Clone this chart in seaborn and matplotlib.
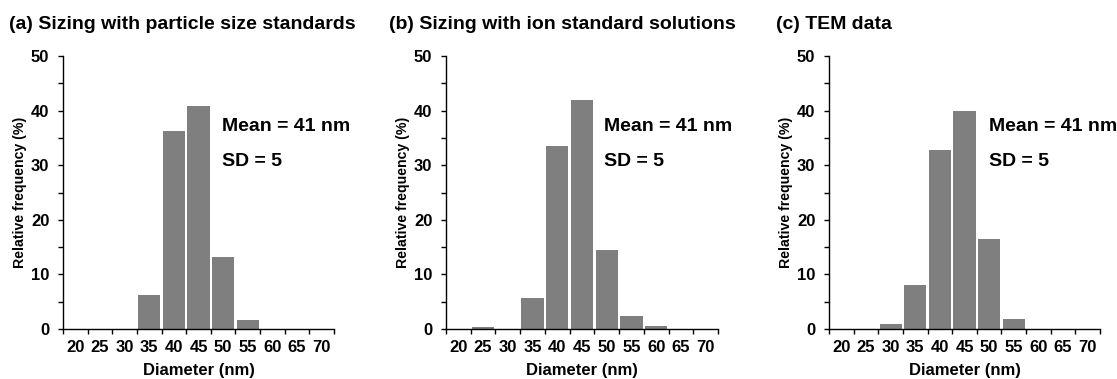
import matplotlib
matplotlib.use("Agg")
import matplotlib.pyplot as plt
from matplotlib import font_manager
from matplotlib.ticker import MultipleLocator, FixedLocator
import numpy as np
import pandas as pd
import seaborn as sns

# Size classes (nm) and relative frequencies (%) for each sizing method
diameters = ["20", "25", "30", "35", "40", "45", "50", "55", "60", "65", "70"]
freq_particle_std = [0, 0, 0, 6.3, 36.3, 40.9, 13.1, 1.7, 0, 0, 0]
freq_ion_std = [0, 0.3, 0, 5.6, 33.5, 42.0, 14.5, 2.4, 0.5, 0, 0]
freq_tem = [0, 0, 0.9, 8.0, 32.7, 40.0, 16.5, 1.9, 0, 0, 0]

panel_titles = [
    "(a) Sizing with particle size standards",
    "(b) Sizing with ion standard solutions",
    "(c) TEM data",
]
mean_labels = ["Mean = 41 nm", "Mean = 41 nm", "Mean = 41 nm"]
sd_labels = ["SD = 5", "SD = 5", "SD = 5"]

sns.set_theme(style="white")

available = {f.name for f in font_manager.fontManager.ttflist}
family = "Liberation Sans Narrow" if "Liberation Sans Narrow" in available else "Liberation Sans"
plt.rcParams["font.family"] = [family, "DejaVu Sans"]
plt.rcParams["font.weight"] = "bold"
for key in ("text.color", "axes.labelcolor", "xtick.color", "ytick.color"):
    plt.rcParams[key] = "black"

W, H = 1117, 379
fig = plt.figure(figsize=(W / 100, H / 100), dpi=100)

# axes boxes in pixels: left, right, top, bottom
boxes = [(63, 334, 56, 329), (446, 718, 56, 329), (829, 1100, 56, 329)]
text_x = [0.587, 0.58, 0.59]
title_x = [9, 389, 776]
series = [freq_particle_std, freq_ion_std, freq_tem]

for i, (l, r, t, b) in enumerate(boxes):
    ax = fig.add_axes([l / W, 1 - b / H, (r - l) / W, (b - t) / H])
    df = pd.DataFrame({"diameter": diameters, "freq": series[i]})
    sns.barplot(data=df, x="diameter", y="freq", order=diameters, color="#7f7f7f",
                saturation=1, width=0.9, edgecolor="none", linewidth=0, ax=ax)
    ax.set_xlim(-0.5, len(diameters) - 0.5)
    ax.set_ylim(0, 50)
    ax.yaxis.set_major_locator(MultipleLocator(10))
    ax.yaxis.set_minor_locator(MultipleLocator(5))
    ax.xaxis.set_minor_locator(FixedLocator(np.arange(-0.5, len(diameters), 1.0)))
    ax.tick_params(axis="x", which="major", length=0, pad=8, labelsize=12,
                   labelcolor="black")
    ax.tick_params(axis="x", which="minor", length=3.8, width=1, direction="out",
                   color="black", bottom=True)
    ax.tick_params(axis="y", which="both", length=3.8, width=1, direction="out",
                   color="black", left=True, labelsize=12, pad=6, labelcolor="black")
    for lab in ax.get_xticklabels() + ax.get_yticklabels():
        lab.set_fontweight("bold")
    for side in ("top", "right"):
        ax.spines[side].set_visible(False)
    for side in ("left", "bottom"):
        ax.spines[side].set_color("black")
        ax.spines[side].set_linewidth(1)
    ax.set_xlabel("Diameter (nm)", fontsize=12, fontweight="bold", color="black")
    ax.xaxis.set_label_coords(0.5, -0.125)
    ax.xaxis.label.set_va("top")
    ax.set_ylabel("Relative frequency (%)", fontsize=10.2, fontweight="bold",
                  color="black")
    ax.yaxis.set_label_coords(-0.157, 0.5)
    ax.yaxis.label.set_va("center")
    ax.grid(False)
    ax.text(text_x[i], 0.74, mean_labels[i], transform=ax.transAxes, fontsize=14,
            fontweight="bold", va="center", ha="left", color="black")
    ax.text(text_x[i], 0.615, sd_labels[i], transform=ax.transAxes, fontsize=14,
            fontweight="bold", va="center", ha="left", color="black")
    fig.text(title_x[i] / W, 1 - 29 / H, panel_titles[i], fontsize=14,
             fontweight="bold", ha="left", va="baseline", color="black")

fig.savefig("out.png", dpi=100, facecolor="white")
